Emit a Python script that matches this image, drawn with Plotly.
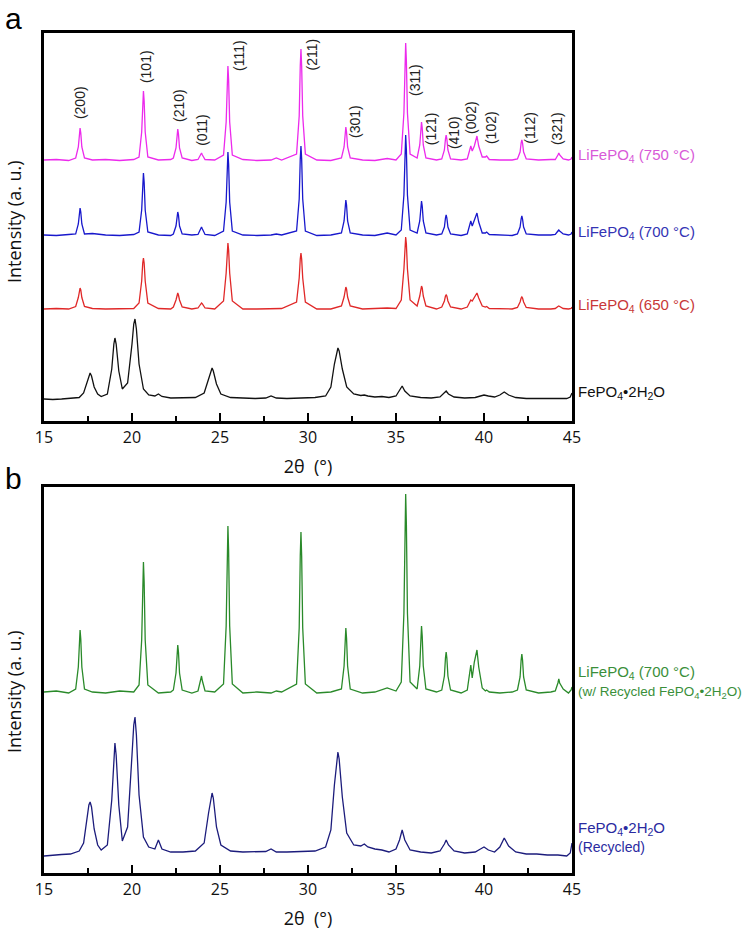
import plotly.graph_objects as go

# ---------------- data ----------------
# shared 2-theta sample positions for the LiFePO4 patterns
LFP_X = [15.0, 15.7, 16.4,
         16.8, 16.95, 17.01, 17.05, 17.09, 17.15, 17.3,
         17.75, 18.5, 19.3, 20.1,
         20.4, 20.55, 20.61, 20.65, 20.69, 20.75, 20.9,
         21.5, 22.2,
         22.35, 22.5, 22.56, 22.6, 22.64, 22.7, 22.85,
         23.4,
         23.75, 23.9, 23.95, 24.0, 24.15,
         24.7,
         25.2, 25.35, 25.41, 25.45, 25.49, 25.55, 25.7,
         26.3, 27.1, 27.9, 28.2, 28.5,
         29.35, 29.5, 29.56, 29.6, 29.64, 29.7, 29.85,
         30.5, 31.3,
         31.9, 32.05, 32.11, 32.15, 32.19, 32.25, 32.4,
         33.1, 33.8, 34.5, 35.0,
         35.3, 35.45, 35.51, 35.55, 35.59, 35.65, 35.8,
         36.2, 36.35, 36.41, 36.45, 36.49, 36.55, 36.7,
         37.3,
         37.6, 37.75, 37.81, 37.85, 37.89, 37.95, 38.1,
         38.7,
         39.05, 39.18, 39.25, 39.33, 39.45, 39.6, 39.7, 39.9,
         40.08, 40.15, 40.3,
         40.9, 41.6,
         41.9, 42.05, 42.11, 42.15, 42.19, 42.25, 42.4,
         43.1, 43.8,
         44.05, 44.2, 44.25, 44.3, 44.5,
         44.8, 44.95, 45.0]

LFP_750 = [0, 0.5, -0.5,
           2, 13, 27, 32, 27, 13, 2,
           0, 0.5, -0.5, 0.5,
           3, 28, 59, 69, 59, 28, 3,
           0, 0.5,
           2, 12, 26, 31, 26, 12, 2,
           -0.5,
           0.5, 5, 7, 5, 0.5,
           0,
           5, 38, 80, 94, 80, 38, 5,
           0.5, -0.5, 0, 2, 0,
           6, 44, 94, 111, 94, 44, 6,
           0, -0.5,
           2, 13, 28, 33, 28, 13, 2,
           0, -0.5, 1.5, 0,
           6, 47, 99, 117, 99, 47, 6,
           2, 15, 32, 38, 32, 15, 2,
           0,
           1, 10, 21, 25, 21, 10, 1,
           0,
           1, 8, 14, 9, 14, 24, 14, 3,
           3, 4, 0.5,
           0, 0,
           1, 8, 17, 20, 17, 8, 1,
           0, 0.5,
           0.5, 5, 7, 5, 1,
           0, 1, 3]

LFP_700 = [0, -0.5, 0.5,
           1, 11, 23, 27, 23, 11, 1,
           1.5, 0, -0.5, 0.5,
           3, 25, 53, 62, 53, 25, 3,
           0, -0.5,
           1, 9, 20, 23, 20, 9, 1,
           0,
           0.5, 6, 8, 6, 0.5,
           -0.5,
           4, 33, 71, 83, 71, 33, 4,
           0, -0.5, 0, 1, 0,
           4, 36, 76, 89, 76, 36, 4,
           -0.5, 0,
           2, 14, 30, 35, 30, 14, 2,
           0, -0.5, 2, 0,
           5, 40, 85, 100, 85, 40, 5,
           2, 14, 29, 34, 29, 14, 2,
           0,
           1, 8, 17, 20, 17, 8, 1,
           -0.5,
           1, 8, 14, 9, 14, 22, 13, 2,
           2, 3, 0.5,
           0, -0.5,
           1, 8, 16, 19, 16, 8, 1,
           0, 0,
           0.5, 4, 5, 4, 1,
           0, 1, 3]

LFP_650 = [0, 0.5, 0,
           2.5, 11.5, 19, 21, 19, 11.5, 2.5,
           0.5, 0, 0.5, 0.5,
           6, 28, 46, 51, 46, 28, 6,
           0.5, 0,
           2, 9, 14, 16, 14, 9, 2,
           0,
           1, 5, 6, 5, 1,
           0,
           8, 36, 59, 66, 59, 36, 8,
           0, 0, 0.5, 1, 0.5,
           7, 31, 50, 56, 50, 31, 7,
           0, 0,
           3, 12, 20, 22, 20, 12, 3,
           0, 0.5, 1, 0.5,
           9, 40, 65, 72, 65, 40, 9,
           3, 13, 21, 23, 21, 13, 3,
           0,
           2, 8, 13, 14, 13, 8, 2,
           0,
           2, 6, 9, 8, 11, 16, 11, 3,
           2, 2.5, 0.5,
           0, 0,
           1.5, 7, 11, 12, 11, 7, 1.5,
           0, 0,
           0.5, 2.5, 3, 2.5, 0.5,
           0, 0.5, 2]

LFP_700_RECYCLED = [0, 1, -1,
                    3, 25, 53, 62, 53, 25, 3,
                    0, -1, 1, 0,
                    7, 52, 110, 130, 110, 52, 7,
                    -1, 0,
                    2, 19, 40, 47, 40, 19, 2,
                    -1,
                    1, 11, 16, 11, 1,
                    0,
                    8, 66, 141, 166, 141, 66, 8,
                    -1, 0, -1, 1, 0,
                    8, 64, 136, 160, 136, 64, 8,
                    -1, 0,
                    3, 26, 54, 64, 54, 26, 3,
                    -1, 0, 4, 1,
                    10, 79, 168, 198, 168, 79, 10,
                    3, 26, 56, 66, 56, 26, 3,
                    0,
                    2, 16, 34, 40, 34, 16, 2,
                    -1,
                    2, 16, 27, 14, 30, 42, 25, 4,
                    1, 2, 0,
                    -1, 0,
                    2, 15, 32, 38, 32, 15, 2,
                    -1, 0,
                    1, 9, 13, 9, 3,
                    -1, 2, 5]

# shared 2-theta sample positions for the FePO4*2H2O patterns
FP_X = [15.0, 15.5, 16.0, 16.5, 17.0,
        17.25, 17.45, 17.55, 17.62, 17.7, 17.85, 18.05, 18.25,
        18.6, 18.85, 18.97, 19.03, 19.1, 19.25, 19.45,
        19.75, 20.0, 20.1, 20.17, 20.25, 20.4, 20.65, 20.95,
        21.3, 21.5, 21.7, 22.2, 22.9, 23.6,
        24.1, 24.35, 24.48, 24.55, 24.62, 24.8, 25.05,
        25.6, 26.3, 27.0, 27.6, 27.9, 28.2, 28.8, 29.6, 30.4, 31.0,
        31.3, 31.5, 31.63, 31.7, 31.77, 31.95, 32.2, 32.6,
        33.0, 33.2, 33.4, 33.8, 34.2, 34.6, 35.0,
        35.2, 35.35, 35.5, 35.8, 36.4, 37.0, 37.5,
        37.75, 37.85, 37.98, 38.3, 38.9, 39.5, 39.8, 40.0, 40.25, 40.6,
        40.9, 41.15, 41.4, 41.8, 42.4, 43.0, 43.6, 44.2, 44.7, 44.9, 45.0]

FP = [0, -0.5, 0, 0.5, 1.5,
      6, 18, 24, 26, 23, 12, 5, 2.5,
      5, 30, 55, 61, 55, 28, 10,
      16, 55, 75, 80, 70, 35, 10, 4,
      3, 5, 2.5, 1, 1, 1.5,
      6, 20, 29, 31, 28, 15, 5,
      1.5, 1, 0.5, 1, 3, 1, 0.5, 1, 1.5, 3,
      12, 35, 48, 51, 48, 30, 12, 5,
      3.5, 4, 3, 2, 2.5, 1.5, 3,
      8, 13, 8, 3, 1.5, 1, 2,
      6, 8, 5, 2, 1, 1.5, 3, 4, 3, 2,
      4, 7, 4, 1.5, 0.5, 0.5, 0, 0.5, 0.5, 2, 6]

FP_RECYCLED = [-1, 0, 0.5, 1, 4,
               12, 38, 50, 53, 48, 26, 10, 5,
               10, 55, 102, 112, 100, 50, 14,
               28, 100, 130, 138, 120, 60, 18, 8,
               6, 15, 6, 3, 3, 4,
               12, 42, 58, 62, 57, 28, 10,
               4, 3, 3, 3.5, 6, 3, 3, 3.5, 4, 8,
               25, 70, 96, 103, 96, 58, 22, 10,
               9, 11, 8, 6, 5, 3, 6,
               15, 25, 15, 5, 3, 2, 4,
               11, 15, 10, 4, 2, 3, 6, 8, 5, 3,
               8, 17, 9, 3, 1, 1, 0, 0, -1, 2, 12]

PEAK_LABELS = ["(200)", "(101)", "(210)", "(011)", "(111)", "(211)", "(301)",
               "(311)", "(121)", "(410)", "(002)", "(102)", "(112)", "(321)"]
PEAK_LABEL_X = [17.05, 20.8, 22.67, 23.97, 26.08, 30.2, 32.67,
                36.08, 37.0, 38.3, 39.26, 40.4, 42.6, 44.15]
PEAK_LABEL_Y = [318, 354, 316, 291, 365, 366, 300,
                341, 292, 288, 304, 293, 293, 292]

X_TICKS = [15, 20, 25, 30, 35, 40, 45]

for arr in (LFP_750, LFP_700, LFP_650, LFP_700_RECYCLED):
    assert len(arr) == len(LFP_X), (len(arr), len(LFP_X))
for arr in (FP, FP_RECYCLED):
    assert len(arr) == len(FP_X), (len(arr), len(FP_X))

# ---------------- figure ----------------
W, H = 745, 930
fig = go.Figure()

panel_a = [
    (LFP_X, LFP_750, 261, "#ec2aec"),
    (LFP_X, LFP_700, 186, "#1818cc"),
    (LFP_X, LFP_650, 112, "#e02828"),
    (FP_X, FP, 22, "#111111"),
]
for xs, ys, off, col in panel_a:
    fig.add_trace(go.Scatter(x=xs, y=[v + off for v in ys], mode="lines",
                             line=dict(color=col, width=1.3),
                             xaxis="x", yaxis="y", showlegend=False, hoverinfo="skip"))

panel_b = [
    (LFP_X, LFP_700_RECYCLED, 181, "#2a8a2a"),
    (FP_X, FP_RECYCLED, 18, "#1c1c7c"),
]
for xs, ys, off, col in panel_b:
    fig.add_trace(go.Scatter(x=xs, y=[v + off for v in ys], mode="lines",
                             line=dict(color=col, width=1.3),
                             xaxis="x2", yaxis="y2", showlegend=False, hoverinfo="skip"))


def px_x(p):
    return p / W


def px_y(p):
    return 1 - p / H


xdom = [px_x(44), px_x(572)]
xaxis_common = dict(
    range=[15, 45], domain=xdom, showline=True, linecolor="black", linewidth=2.5,
    mirror=True, ticks="inside", ticklen=8, tickwidth=2, tickcolor="black",
    tickvals=X_TICKS, ticktext=[str(t) for t in X_TICKS],
    minor=dict(ticks="inside", ticklen=5, tickwidth=2, dtick=2.5, tick0=15,
               tickcolor="black", showgrid=False),
    showgrid=False, zeroline=False, automargin=False,
    tickfont=dict(family="Open Sans", size=16, color="#111"),
    title=dict(text="2θ  (°)", font=dict(family="Open Sans", size=18, color="#111"),
               standoff=14),
)
yaxis_common = dict(showline=True, linecolor="black", linewidth=2.5, mirror=True,
                    showticklabels=False, ticks="", showgrid=False, zeroline=False,
                    automargin=False)

fig.update_layout(
    width=W, height=H, autosize=False,
    margin=dict(l=0, r=0, t=0, b=0, autoexpand=False),
    paper_bgcolor="white", plot_bgcolor="white",
    xaxis=dict(xaxis_common, anchor="y"),
    yaxis=dict(yaxis_common, domain=[px_y(421), px_y(33)], range=[0, 388], anchor="x"),
    xaxis2=dict(xaxis_common, anchor="y2"),
    yaxis2=dict(yaxis_common, domain=[px_y(873), px_y(487)], range=[0, 386], anchor="x2"),
)

ann = []
# panel letters
ann.append(dict(text="a", x=px_x(3), y=px_y(18), xref="paper", yref="paper",
                xanchor="left", yanchor="middle", showarrow=False,
                font=dict(family="Liberation Sans", size=30, color="black")))
ann.append(dict(text="b", x=px_x(3), y=px_y(478), xref="paper", yref="paper",
                xanchor="left", yanchor="middle", showarrow=False,
                font=dict(family="Liberation Sans", size=30, color="black")))
# y titles
for yc in (222, 692):
    ann.append(dict(text="Intensity (a. u.)", x=px_x(14), y=px_y(yc), xref="paper",
                    yref="paper", textangle=-90, showarrow=False,
                    xanchor="center", yanchor="middle",
                    font=dict(family="Open Sans", size=18, color="#111")))
# peak labels
for t, xv, yv in zip(PEAK_LABELS, PEAK_LABEL_X, PEAK_LABEL_Y):
    ann.append(dict(text=t, x=xv, y=yv, xref="x", yref="y", textangle=-90,
                    showarrow=False, xanchor="center", yanchor="middle",
                    font=dict(family="Liberation Sans", size=14, color="#222")))

lab_font = "Liberation Sans"
series_labels = [
    ("LiFePO<sub>4</sub> (750 °C)", "y", 266, "#d85ad8", 15),
    ("LiFePO<sub>4</sub> (700 °C)", "y", 189, "#3434b4", 15),
    ("LiFePO<sub>4</sub> (650 °C)", "y", 116, "#c83838", 15),
    ("FePO<sub>4</sub>•2H<sub>2</sub>O", "y", 29, "#111111", 15),
    ("LiFePO<sub>4</sub> (700 °C)", "y2", 201, "#3a8f3a", 15),
    ("(w/ Recycled FePO<sub>4</sub>•2H<sub>2</sub>O)", "y2", 181, "#3a8f3a", 13.5),
    ("FePO<sub>4</sub>•2H<sub>2</sub>O", "y2", 45, "#2a2aa0", 15),
    ("(Recycled)", "y2", 26, "#2a2aa0", 14),
]
for t, yr, yv, col, fs in series_labels:
    ann.append(dict(text=t, x=px_x(576), y=yv, xref="paper", yref=yr,
                    xanchor="left", yanchor="middle", align="left", showarrow=False,
                    font=dict(family=lab_font, size=fs, color=col)))

fig.update_layout(annotations=ann)
fig.write_html("out.html", config={"displayModeBar": False},
               post_script="document.body.style.margin='0';document.body.style.overflow='hidden';")
